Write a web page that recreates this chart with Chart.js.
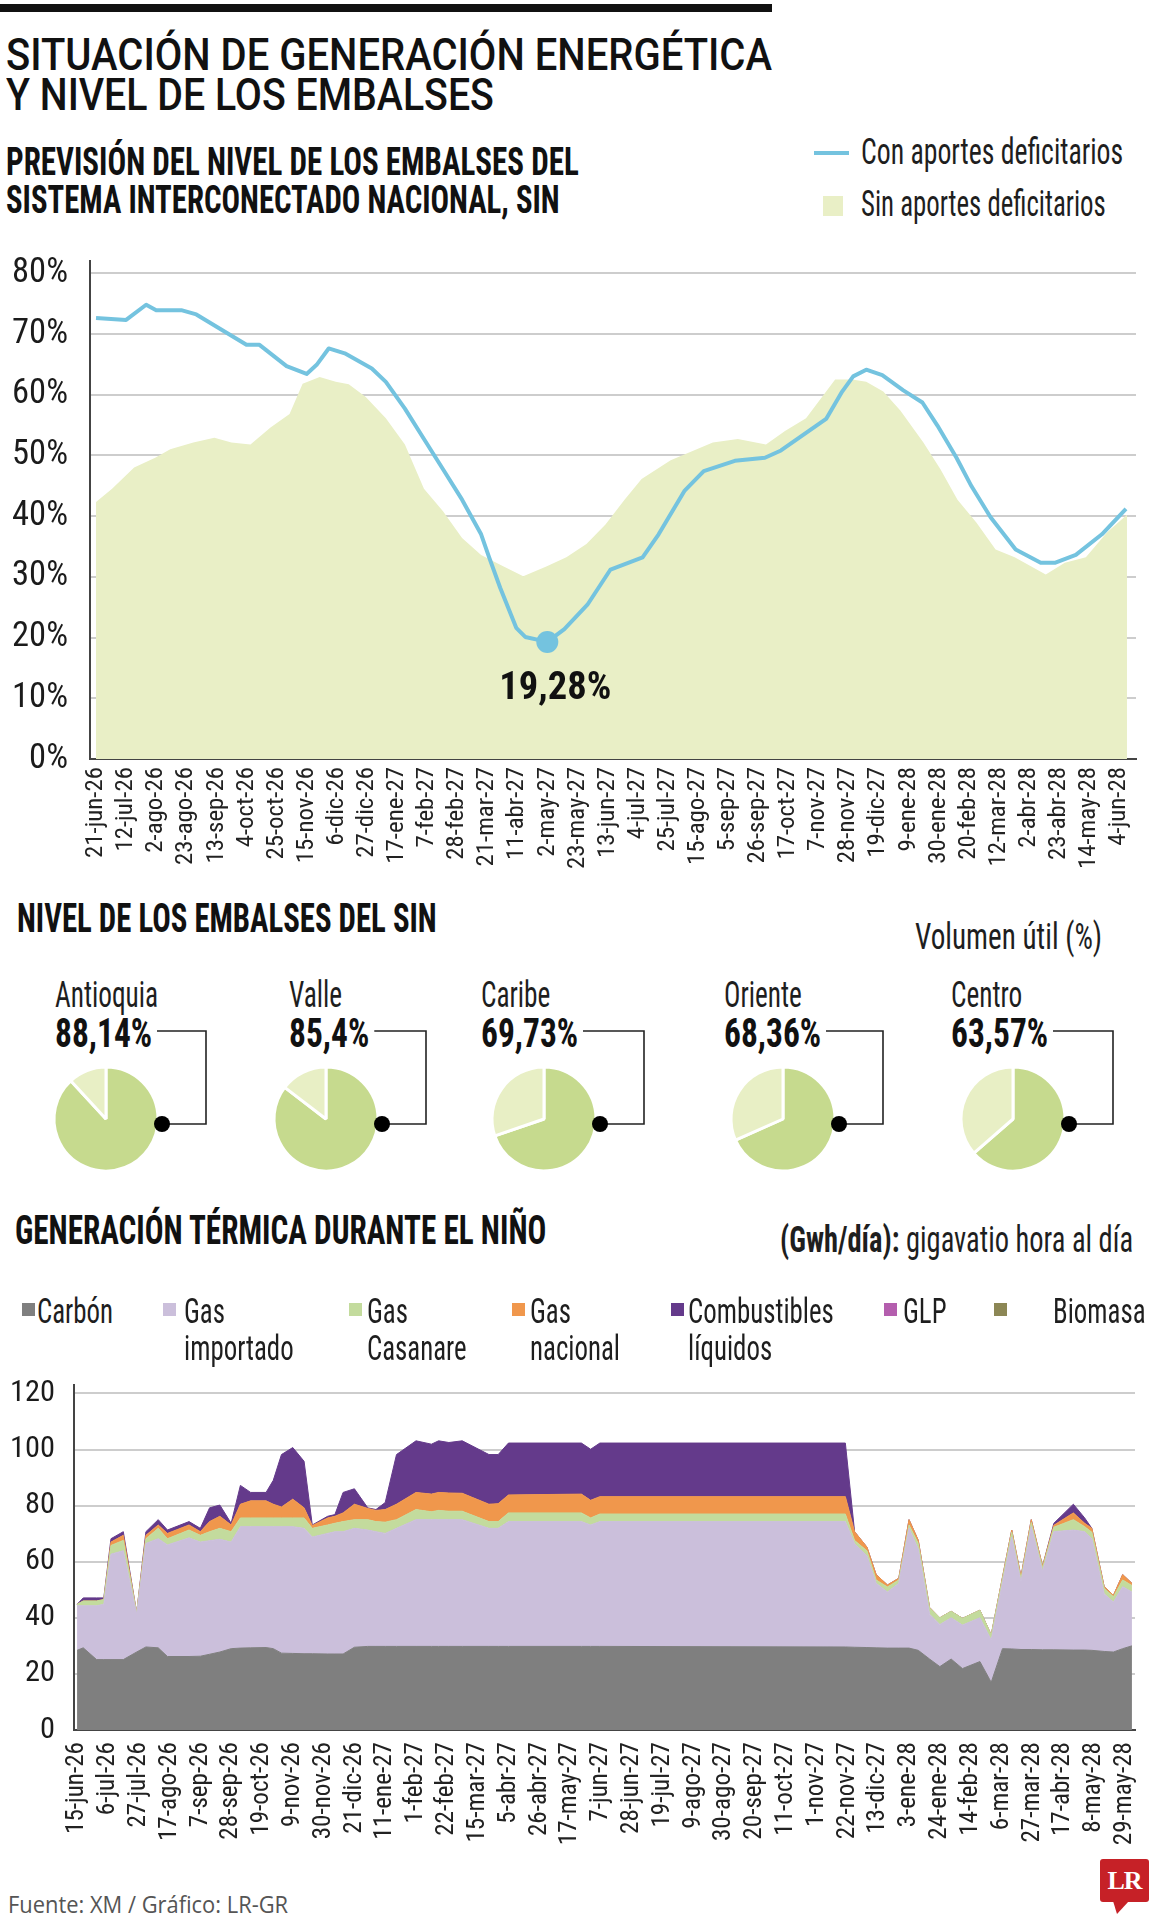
<!DOCTYPE html>
<html lang="es">
<head>
<meta charset="utf-8">
<title>Situación de generación energética y nivel de los embalses</title>
<script src="https://cdn.jsdelivr.net/npm/chart.js@4.4.1/dist/chart.umd.min.js"></script>
<style>
  html, body { margin: 0; padding: 0; background: #fff; }
  body { position: relative; width: 1161px; height: 1920px; overflow: hidden; color: #1b1b1b; }
  .t { position: absolute; white-space: nowrap; line-height: 1; transform-origin: 0 0; }
  .title { font-family: Roboto, "Open Sans", sans-serif; font-weight: 500; font-size: 45px; color: #111; font-stretch: normal; }
  .head { font-weight: bold; font-size: 38px; color: #111; }
  .light { font-size: 36px; color: #1e1e1e; }
  .source { font-family: "Open Sans", sans-serif; font-size: 24px; color: #555; font-stretch: normal; }
  canvas { position: absolute; }
  #topbar { position: absolute; left: 0; top: 4px; width: 772px; height: 8px; background: #111; }
  #lr { position: absolute; left: 1100px; top: 1859px; width: 49px; height: 43px; background: #c62127;
        border-radius: 3px; color: #fff; font: bold 26px "Liberation Serif", "DejaVu Serif", serif;
        line-height: 43px; text-align: center; letter-spacing: -1px; }
  #lrtail { position: absolute; left: 1113px; top: 1901px; width: 16px; height: 13px; background: #c62127;
            clip-path: polygon(0 0, 100% 0, 25% 100%); }
</style>
</head>
<body>
<div id="topbar"></div>
<div class="t title" data-x="6" data-b="70" data-w="766">SITUACIÓN DE GENERACIÓN ENERGÉTICA</div>
<div class="t title" data-x="6" data-b="110" data-w="488">Y NIVEL DE LOS EMBALSES</div>
<div class="t head" data-x="6" data-b="175" data-w="573">PREVISIÓN DEL NIVEL DE LOS EMBALSES DEL</div>
<div class="t head" data-x="6" data-b="213" data-w="554">SISTEMA INTERCONECTADO NACIONAL, SIN</div>

<canvas id="forecast" width="1161" height="640" style="left:0;top:241px"></canvas>

<div class="t head" style="font-size:40px" data-x="17" data-b="932" data-w="420">NIVEL DE LOS EMBALSES DEL SIN</div>
<div class="t light" data-r="1102" data-b="949" data-w="187">Volumen útil (%)</div>

<div class="t head" style="font-size:40px" data-x="15" data-b="1244" data-w="531">GENERACIÓN TÉRMICA DURANTE EL NIÑO</div>
<div class="t light" data-r="1133" data-b="1252" data-w="353"><b>(Gwh/día):</b> gigavatio hora al día</div>

<canvas id="thermal" width="1161" height="498" style="left:0;top:1365px"></canvas>

<div class="t source" data-x="8" data-b="1913" data-w="280">Fuente: XM / Gráfico: LR-GR</div>
<div id="lr">LR</div><div id="lrtail"></div>

<script>
// ======================= Data =======================

// Previsión del nivel de los embalses (x = semanas desde 21-jun-26)
const forecastTickLabels = ['21-jun-26','12-jul-26','2-ago-26','23-ago-26','13-sep-26','4-oct-26','25-oct-26','15-nov-26','6-dic-26','27-dic-26','17-ene-27','7-feb-27','28-feb-27','21-mar-27','11-abr-27','2-may-27','23-may-27','13-jun-27','4-jul-27','25-jul-27','15-ago-27','5-sep-27','26-sep-27','17-oct-27','7-nov-27','28-nov-27','19-dic-27','9-ene-28','30-ene-28','20-feb-28','12-mar-28','2-abr-28','23-abr-28','14-may-28','4-jun-28'];
const forecastYTicks = [0, 10, 20, 30, 40, 50, 60, 70, 80];

// Con aportes deficitarios (line)
const deficitWeeks = [0,3,5,6,8.5,10,15,16.3,19,21,22,23.2,24.8,27.5,28.9,30.8,32.7,34.6,36.5,38.4,39.2,40.3,41.9,42.8,45,46.7,49,51.3,54.5,56.1,58.7,60.6,63.7,66.7,68.3,72.8,74.4,75.5,76.8,78.4,80.5,82.4,83.9,85.8,87.3,89.2,91.7,94.2,95.6,97.7,100.3,102.7];
const deficitLevel = [72.6,72.3,74.8,73.9,73.9,73.2,68.2,68.2,64.7,63.4,64.9,67.6,66.8,64.3,62.1,57.7,52.7,47.7,42.7,37.0,33.2,28.2,21.6,20.1,19.28,21.4,25.4,31.2,33.2,37.0,44.2,47.4,49.1,49.6,50.8,56.0,60.5,63.0,64.1,63.2,60.7,58.7,54.9,49.6,44.9,39.8,34.5,32.3,32.3,33.6,37.0,41.2];

// Sin aportes deficitarios (area)
const normalWeeks = [0,1.6,3.8,5.9,7.4,9.7,11.8,13.5,15.4,17.4,19.3,20.6,22.3,23.9,25.2,26.9,28.9,30.8,32.7,34.6,36.5,38.4,40.3,42.6,44.9,46.9,48.9,50.8,52.7,54.4,57.3,61.5,64,66.8,68.7,70.8,73.7,75.4,76.8,78.5,80.2,82.5,84.2,85.9,87.8,89.7,91.6,94.7,96.6,98.7,100.8,102.8];
const normalLevel = [42.3,44.5,48.0,49.6,51.0,52.1,52.9,52.1,51.8,54.6,56.8,61.8,62.9,62.1,61.7,59.6,56.1,51.8,44.5,40.8,36.4,33.6,32.0,30.1,31.7,33.2,35.4,38.6,42.7,46.1,49.2,52.1,52.7,51.8,54.0,56.1,62.5,62.5,62.1,60.5,57.4,52.1,47.7,42.7,38.9,34.5,33.2,30.4,32.3,33.2,37.3,40.2];

// Nivel de los embalses del SIN, volumen útil (%)
const regions = ['Antioquia','Valle','Caribe','Oriente','Centro'];
const usefulVolume = [88.14, 85.4, 69.73, 68.36, 63.57];

// Generación térmica (GWh/día, x = semanas desde 15-jun-26)
const thermalTickLabels = ['15-jun-26','6-jul-26','27-jul-26','17-ago-26','7-sep-26','28-sep-26','19-oct-26','9-nov-26','30-nov-26','21-dic-26','11-ene-27','1-feb-27','22-feb-27','15-mar-27','5-abr-27','26-abr-27','17-may-27','7-jun-27','28-jun-27','19-jul-27','9-ago-27','30-ago-27','20-sep-27','11-oct-27','1-nov-27','22-nov-27','13-dic-27','3-ene-28','24-ene-28','14-feb-28','6-mar-28','27-mar-28','17-abr-28','8-may-28','29-may-28'];
const thermalYTicks = [0, 20, 40, 60, 80, 100, 120];
const thermalWeeks = [0,0.6,1.9,2.6,3.3,4.5,5.8,6.7,7.9,8.8,10.9,12,12.9,13.9,15,15.9,16.9,18.4,19.1,19.9,21,22.1,22.9,24.4,25.1,25.9,27,28.3,29.1,30,31.1,33,34.5,35.2,36.2,37.5,40.1,41,42,49.1,50,50.9,74.8,75.7,76.9,77.8,78.9,80,81,81.9,83,84,85.1,86.2,87.9,89,90.1,91,91.9,92.9,94,95.1,97,98.1,98.8,100,100.9,101.8,102.7];
const coal = [28.4,29.3,25.1,25.1,25.1,25.1,27.8,29.6,29.3,26.2,26.2,26.3,27.0,27.8,29.0,29.2,29.3,29.4,29.0,27.4,27.3,27.2,27.2,27.1,27.1,27.1,29.5,29.8,29.8,29.8,29.8,29.8,29.8,29.8,29.8,29.8,29.8,29.8,29.8,29.8,29.8,29.8,29.6,29.5,29.4,29.3,29.2,29.2,29.2,28.4,25.3,22.6,25.3,21.9,24.4,17.0,29.0,28.9,28.7,28.7,28.6,28.6,28.5,28.5,28.4,28.0,27.8,29.0,30.0];
const importedGas = [15.9,15.0,19.2,19.7,37.6,38.8,13.5,36.9,38.9,39.8,42.3,40.7,40.5,40.2,38.0,43.3,43.2,43.1,43.5,45.1,45.2,44.7,41.6,43.0,43.6,43.6,42.4,41.5,40.9,40.3,42.1,45.2,45.2,45.2,45.2,45.2,42.1,42.1,44.5,44.5,43.3,44.5,44.7,36.9,32.7,23.0,20.0,23.1,42.7,36.1,16.0,15.0,14.7,15.5,15.6,15.1,23.5,39.9,24.2,43.8,28.0,42.1,42.8,42.2,39.8,20.6,17.8,22.1,19.2];
const casanareGas = [0.5,1.7,1.7,1.7,3.1,3.7,0.5,1.7,3.7,2.2,2.8,2.4,3.2,3.9,3.7,3.1,3.1,3.1,3.1,3.1,3.1,3.7,3.1,3.0,3.0,3.6,3.1,3.7,3.6,4.0,3.1,3.6,2.8,3.3,3.0,3.0,2.4,2.4,3.1,3.1,2.5,2.7,2.7,1.2,1.8,1.2,1.8,1.2,1.2,2.0,2.2,2.4,2.3,2.4,2.7,1.8,1.5,1.7,1.1,1.5,1.2,1.6,3.7,1.8,2.3,1.9,1.9,2.4,2.3];
const nationalGas = [0,0,0,0,1.2,1.8,0,1.2,1.2,1.9,1.8,1.3,3.6,4.3,2.4,4.9,6.1,6.1,4.9,3.9,6.7,3.6,1.0,2.5,2.5,3.1,5.5,4.0,4.0,4.5,5.5,6.1,6.3,6.4,6.5,6.4,6.2,6.4,6.4,6.7,6.3,6.2,6.2,3.1,1.3,1.9,0.7,0.6,1.9,1.1,0.2,0,0,0,0,0,0.5,0.8,0.7,1.0,0.6,0.7,2.4,1.2,1.4,0.6,0.5,1.9,0.8];
const liquidFuels = [0,1.1,1.1,0.6,1.2,1.3,0,1.3,1.9,1.2,1.2,1.2,4.9,4.0,0.6,6.7,3.0,3.0,8.5,18.7,18.4,16.6,0.2,0.6,0.6,7.3,5.5,0.2,0.3,2.5,17.7,18.4,17.8,18.4,18.0,18.7,17.7,17.5,18.5,18.2,18.2,19.1,19.1,0,0,0,0,0,0,0,0,0,0,0,0,0,0,0,0,0,0,0.7,3.1,1.9,0,0,0,0,0];
// GLP and biomasa: no visible generation in the picture
const lpg = [];
const biomass = [];
const thermalNames = ['Carbón','Gas importado','Gas Casanare','Gas nacional','Combustibles líquidos','GLP','Biomasa'];
const thermalColors = ['#7f7f7f','#cbbfdb','#c3db9d','#f0974c','#643a8b','#b45eae','#8c8755'];

// ======================= Fonts =======================
// pick the narrowest condensed face that is really installed
const probeCtx = document.createElement('canvas').getContext('2d');
const SAMPLE = 'abcdefghijklmnopqrstuvwxyz ABCDEFGHIJ 0123456789';
function measure(font, s) { probeCtx.font = '10px serif'; probeCtx.font = font; return probeCtx.measureText(s).width; }
function installed(fam) {
    return ['monospace', 'serif'].some(g => measure(`40px "${fam}", ${g}`, SAMPLE) !== measure(`40px ${g}`, SAMPLE));
}
let COND = { family: 'Roboto', stretch: '' };
const candidates = [['Liberation Sans Narrow', ''], ['Roboto Condensed', ''], ['Open Sans Condensed', ''],
                    ['Open Sans', 'condensed'], ['DejaVu Sans Condensed', '']];
for (const [fam, stretch] of candidates) {
    if (!installed(fam)) continue;
    if (stretch) {
        const narrow = measure(`${stretch} 40px "${fam}"`, SAMPLE);
        const normal = measure(`40px "${fam}"`, SAMPLE);
        if (!(narrow < normal * 0.9)) continue;
    }
    COND = { family: fam, stretch };
    break;
}
const FAMILY = `"${COND.family}", sans-serif`;
function canvasFont(size, bold) {
    return `${bold ? 'bold ' : ''}${COND.stretch ? COND.stretch + ' ' : ''}${size}px ${FAMILY}`;
}
// font size that gives a text the width it has in the original
function sizeFor(text, width, bold) { return 100 * width / measure(canvasFont(100, bold), text); }
function chartFont(size, bold) {
    const w = [bold ? 'bold' : '', COND.stretch].filter(Boolean).join(' ');
    return { family: FAMILY, size, weight: w || 'normal' };
}

document.body.style.fontFamily = FAMILY;
document.body.style.fontStretch = COND.stretch || 'normal';
Chart.defaults.font.family = FAMILY;
Chart.defaults.color = '#1b1b1b';

// ======================= Helpers =======================
const BLUE = '#74c3df';
const PALE = '#e9efc6';
const PIE_GREEN = '#c6da8e';
const PIE_PALE = '#e8efc5';

function fixedTicks(values) {
    return scale => { scale.ticks = values.map(v => ({ value: v })); };
}
function weekTicks(labels) {
    return scale => { scale.ticks = labels.map((_, i) => ({ value: i * 3 })); };
}
function points(xs, ys) { return ys.map((y, i) => ({ x: xs[i], y })); }
function comma(v) { return String(v).replace('.', ','); }
function noPad(scale) { scale.paddingLeft = scale.paddingRight = scale.paddingTop = scale.paddingBottom = 0; }

function makeText(cls, x, b, html, extra) {
    const el = document.createElement('div');
    el.className = 't ' + cls;
    el.dataset.x = x;
    el.dataset.b = b;
    el.innerHTML = html;
    Object.assign(el.dataset, extra || {});
    document.body.appendChild(el);
    return el;
}

function makeBox(x, y, w, h, color) {
    const el = document.createElement('div');
    el.style.cssText = `position:absolute;left:${x}px;top:${y}px;width:${w}px;height:${h}px;background:${color}`;
    document.body.appendChild(el);
    return el;
}

// put every .t on its baseline and squeeze it to its width
function placeTexts() {
    document.querySelectorAll('.t').forEach(el => {
        const probe = document.createElement('span');
        probe.style.cssText = 'display:inline-block;width:0;height:0;vertical-align:baseline';
        el.insertBefore(probe, el.firstChild);
        const base = probe.offsetTop;
        probe.remove();
        el.style.top = (+el.dataset.b - base) + 'px';
        let s = el.dataset.s ? +el.dataset.s : 1;
        if (el.dataset.w) s = +el.dataset.w / el.offsetWidth;
        el.style.transform = 'scaleX(' + s + ')';
        el._w = el.offsetWidth * s;
        const left = el.dataset.r ? +el.dataset.r - el._w : +el.dataset.x;
        el.style.left = left + 'px';
        el._right = left + el._w;
    });
}
function naturalWidth(el) { return el.offsetWidth; }

// ======================= Chart 1: previsión =======================
const iMin = deficitLevel.indexOf(Math.min(...deficitLevel));
const minText = comma(deficitLevel[iMin]) + '%';
const minSize = sizeFor(minText, 112, true);

const minLabel = {
    id: 'minLabel',
    afterDatasetsDraw(chart) {
        const p = chart.getDatasetMeta(2).data[0];
        const ctx = chart.ctx;
        ctx.save();
        ctx.font = canvasFont(minSize, true);
        ctx.fillStyle = '#111';
        ctx.textAlign = 'center';
        ctx.fillText(minText, p.x + 8, p.y + 57);
        ctx.restore();
    }
};

const forecast = new Chart(document.getElementById('forecast'), {
    type: 'line',
    data: {
        datasets: [
            { label: 'Sin aportes deficitarios', data: points(normalWeeks, normalLevel), fill: 'origin',
              backgroundColor: PALE, borderColor: PALE, borderWidth: 0, pointRadius: 0, order: 3 },
            { label: 'Con aportes deficitarios', data: points(deficitWeeks, deficitLevel), fill: false,
              borderColor: BLUE, borderWidth: 4, borderJoinStyle: 'round', pointRadius: 0, order: 2 },
            { label: 'min', data: [{ x: deficitWeeks[iMin], y: deficitLevel[iMin] }], showLine: false,
              pointRadius: 11, pointBackgroundColor: BLUE, pointBorderWidth: 0, order: 1 }
        ]
    },
    options: {
        responsive: false, animation: false, devicePixelRatio: 1,
        layout: { padding: { top: 20, right: 25, left: 0, bottom: 0 } },
        plugins: { legend: { display: false }, tooltip: { enabled: false } },
        scales: {
            x: {
                type: 'linear', min: -0.6, max: 103.7,
                grid: { display: false, drawTicks: false },
                border: { display: true, color: '#444', width: 2 },
                ticks: { autoSkip: false, minRotation: 90, maxRotation: 90, padding: 8, color: '#222',
                         font: chartFont(Math.min(28, sizeFor('21-jun-26', 91))),
                         callback: (v, i) => forecastTickLabels[i] },
                afterBuildTicks: weekTicks(forecastTickLabels),
                afterFit: s => { s.height = 122; noPad(s); }
            },
            y: {
                min: 0, max: 82,
                ticks: { padding: 22, font: chartFont(Math.min(36, sizeFor('10%', 56))), callback: v => v + '%' },
                afterBuildTicks: fixedTicks(forecastYTicks),
                grid: { color: '#cdcdcd', lineWidth: 2, drawTicks: false },
                border: { display: true, color: '#444', width: 2 },
                afterFit: s => { s.width = 90; noPad(s); }
            }
        }
    },
    plugins: [minLabel]
});

// legend of chart 1
makeBox(814, 151, 35, 4, BLUE);
makeBox(823, 196, 20, 20, PALE);
makeText('light', 861, 164, forecast.data.datasets[1].label, { w: 262 });
makeText('light', 861, 216, forecast.data.datasets[0].label, { w: 245 });

// ======================= Pies: nivel por región =======================
const pieX = [106, 326, 544, 783, 1013];
const labelX = [55, 289, 481, 724, 951];
const PIE_Y = 1119, PIE_R = 52, DOT_Y = 1124;
const nameLabels = [];
const pctLabels = [];

regions.forEach((name, i) => {
    const c = document.createElement('canvas');
    c.width = 120; c.height = 120;
    c.style.left = (pieX[i] - 60) + 'px';
    c.style.top = (PIE_Y - 60) + 'px';
    document.body.appendChild(c);
    new Chart(c, {
        type: 'pie',
        data: { labels: [name, ''], datasets: [{ data: [usefulVolume[i], 100 - usefulVolume[i]],
                backgroundColor: [PIE_GREEN, PIE_PALE], borderColor: '#fff', borderWidth: 3,
                radius: PIE_R, hoverOffset: 0 }] },
        options: { responsive: false, animation: false, devicePixelRatio: 1,
                   plugins: { legend: { display: false }, tooltip: { enabled: false } } }
    });
    const n = makeText('light', labelX[i], 1007, name);
    n.style.fontSize = '36px';
    nameLabels.push(n);
    const p = makeText('head', labelX[i], 1047, comma(usefulVolume[i]) + '%');
    p.style.fontSize = '40px';
    pctLabels.push(p);
});
// same squeeze for every pie label, taken from the first one
const nameScale = 103 / naturalWidth(nameLabels[0]);
const pctScale = 97 / naturalWidth(pctLabels[0]);
nameLabels.forEach(el => { el.dataset.s = nameScale; });
pctLabels.forEach(el => { el.dataset.s = pctScale; });

// ======================= Chart 2: generación térmica =======================
const thermalValues = [coal, importedGas, casanareGas, nationalGas, liquidFuels, lpg, biomass];

const thermal = new Chart(document.getElementById('thermal'), {
    type: 'line',
    data: {
        datasets: thermalValues.map((vals, i) => ({
            label: thermalNames[i],
            data: points(thermalWeeks, vals),
            fill: i === 0 ? 'origin' : '-1',
            backgroundColor: thermalColors[i],
            borderColor: thermalColors[i],
            borderWidth: 1,
            pointRadius: 0
        }))
    },
    options: {
        responsive: false, animation: false, devicePixelRatio: 1,
        layout: { padding: { top: 20, right: 26, left: 0, bottom: 0 } },
        plugins: { legend: { display: false }, tooltip: { enabled: false } },
        scales: {
            x: {
                type: 'linear', min: -0.3, max: 103,
                grid: { display: false, drawTicks: false },
                border: { display: true, color: '#444', width: 2 },
                ticks: { autoSkip: false, minRotation: 90, maxRotation: 90, padding: 12, color: '#222',
                         font: chartFont(Math.min(28, sizeFor('15-jun-26', 92))),
                         callback: (v, i) => thermalTickLabels[i] },
                afterBuildTicks: weekTicks(thermalTickLabels),
                afterFit: s => { s.height = 133; noPad(s); }
            },
            y: {
                stacked: true, min: 0, max: 123,
                ticks: { padding: 19, font: chartFont(Math.min(36, sizeFor('120', 45))) },
                afterBuildTicks: fixedTicks(thermalYTicks),
                grid: { color: '#cdcdcd', lineWidth: 2, drawTicks: false },
                border: { display: true, color: '#444', width: 2 },
                afterFit: s => { s.width = 74; noPad(s); }
            }
        }
    }
});

// legend of chart 2: two-word names go on two lines like the original
const legSqX = [22, 163, 349, 512, 671, 884, 994];
const legTxtX = [37, 184, 367, 530, 688, 903, 1053];
const legItems = thermal.data.datasets.map((ds, i) => {
    makeBox(legSqX[i], 1303, 13, 13, ds.backgroundColor);
    const el = makeText('light', legTxtX[i], 1323, ds.label.replace(' ', '<br>'));
    el.style.fontSize = '35px';
    el.style.lineHeight = '37px';
    return el;
});
const legScale = 76 / naturalWidth(legItems[0]);
legItems.forEach(el => { el.dataset.s = legScale; });

placeTexts();

// brackets from each pie to its percentage
const svgNS = 'http://www.w3.org/2000/svg';
const svg = document.createElementNS(svgNS, 'svg');
svg.setAttribute('width', 1161);
svg.setAttribute('height', 1920);
svg.style.cssText = 'position:absolute;left:0;top:0;pointer-events:none';
pieX.forEach((cx, i) => {
    const xR = cx + 100, yTop = 1031, xDot = cx + PIE_R + 4;
    const path = document.createElementNS(svgNS, 'path');
    path.setAttribute('d', `M${pctLabels[i]._right + 5},${yTop} H${xR} V${DOT_Y} H${xDot}`);
    path.setAttribute('fill', 'none');
    path.setAttribute('stroke', '#222');
    path.setAttribute('stroke-width', 1.6);
    svg.appendChild(path);
    const dot = document.createElementNS(svgNS, 'circle');
    dot.setAttribute('cx', xDot);
    dot.setAttribute('cy', DOT_Y);
    dot.setAttribute('r', 8);
    dot.setAttribute('fill', '#000');
    svg.appendChild(dot);
});
document.body.appendChild(svg);
</script>
</body>
</html>
